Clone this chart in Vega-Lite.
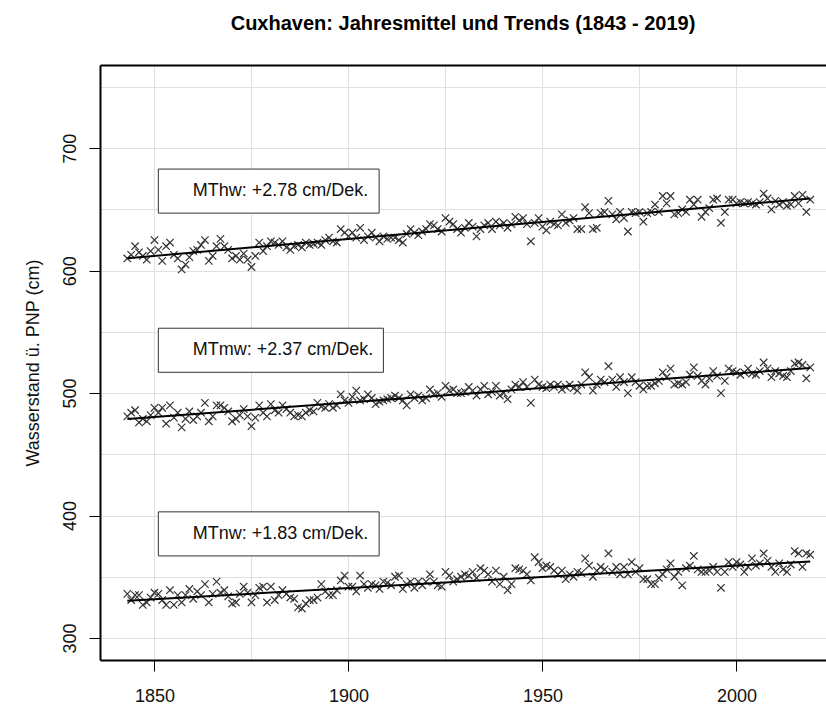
{
  "$schema": "https://vega.github.io/schema/vega-lite/v6.json",
  "width": 726,
  "height": 595,
  "autosize": {"type": "none"},
  "padding": {"left": 100, "top": 65, "right": 0, "bottom": 44},
  "background": "white",
  "title": {"text": "Cuxhaven: Jahresmittel und Trends (1843 - 2019)", "font": "Liberation Sans", "fontSize": 20, "fontWeight": "bold", "anchor": "middle", "frame": "group", "baseline": "alphabetic", "offset": 15, "color": "#000"},
  "config": {
    "view": {"stroke": null},
    "font": "Liberation Sans",
    "axis": {"labelFont": "Liberation Sans", "titleFont": "Liberation Sans", "labelColor": "#111", "titleColor": "#111", "tickColor": "#000", "domainColor": "#000", "gridColor": "#e0e0e0", "gridWidth": 1}
  },
  "datasets": {
    "obs": [
      {"year":1843,"hw":610,"mw":481,"nw":336},{"year":1844,"hw":613,"mw":484,"nw":331},{"year":1845,"hw":620,"mw":486,"nw":335},{"year":1846,"hw":615,"mw":476,"nw":335},{"year":1847,"hw":612,"mw":479,"nw":327},{"year":1848,"hw":609,"mw":477,"nw":329},{"year":1849,"hw":616,"mw":482,"nw":333},{"year":1850,"hw":625,"mw":488,"nw":337},{"year":1851,"hw":617,"mw":484,"nw":336},{"year":1852,"hw":608,"mw":488,"nw":331},
      {"year":1853,"hw":620,"mw":475,"nw":327},{"year":1854,"hw":623,"mw":490,"nw":339},{"year":1855,"hw":613,"mw":480,"nw":327},{"year":1856,"hw":610,"mw":484,"nw":335},{"year":1857,"hw":601,"mw":472,"nw":329},{"year":1858,"hw":605,"mw":479,"nw":335},{"year":1859,"hw":611,"mw":485,"nw":340},{"year":1860,"hw":616,"mw":478,"nw":332},{"year":1861,"hw":617,"mw":481,"nw":338},{"year":1862,"hw":621,"mw":484,"nw":335},
      {"year":1863,"hw":625,"mw":492,"nw":344},{"year":1864,"hw":608,"mw":477,"nw":329},{"year":1865,"hw":612,"mw":481,"nw":336},{"year":1866,"hw":620,"mw":490,"nw":346},{"year":1867,"hw":626,"mw":490,"nw":337},{"year":1868,"hw":620,"mw":488,"nw":339},{"year":1869,"hw":617,"mw":485,"nw":334},{"year":1870,"hw":610,"mw":477,"nw":328},{"year":1871,"hw":612,"mw":479,"nw":329},{"year":1872,"hw":609,"mw":482,"nw":336},
      {"year":1873,"hw":614,"mw":487,"nw":342},{"year":1874,"hw":609,"mw":481,"nw":337},{"year":1875,"hw":603,"mw":473,"nw":329},{"year":1876,"hw":612,"mw":480,"nw":335},{"year":1877,"hw":623,"mw":490,"nw":341},{"year":1878,"hw":616,"mw":484,"nw":342},{"year":1879,"hw":620,"mw":481,"nw":329},{"year":1880,"hw":624,"mw":491,"nw":342},{"year":1881,"hw":623,"mw":486,"nw":331},{"year":1882,"hw":621,"mw":484,"nw":335},
      {"year":1883,"hw":624,"mw":490,"nw":339},{"year":1884,"hw":619,"mw":487,"nw":336},{"year":1885,"hw":617,"mw":484,"nw":333},{"year":1886,"hw":620,"mw":481,"nw":332},{"year":1887,"hw":621,"mw":482,"nw":325},{"year":1888,"hw":619,"mw":481,"nw":324},{"year":1889,"hw":623,"mw":484,"nw":328},{"year":1890,"hw":621,"mw":486,"nw":331},{"year":1891,"hw":622,"mw":485,"nw":331},{"year":1892,"hw":623,"mw":492,"nw":333},
      {"year":1893,"hw":621,"mw":489,"nw":344},{"year":1894,"hw":625,"mw":488,"nw":338},{"year":1895,"hw":627,"mw":491,"nw":335},{"year":1896,"hw":624,"mw":488,"nw":335},{"year":1897,"hw":623,"mw":490,"nw":339},{"year":1898,"hw":634,"mw":499,"nw":347},{"year":1899,"hw":631,"mw":494,"nw":351},{"year":1900,"hw":628,"mw":492,"nw":342},{"year":1901,"hw":631,"mw":497,"nw":342},{"year":1902,"hw":627,"mw":502,"nw":338},
      {"year":1903,"hw":635,"mw":494,"nw":351},{"year":1904,"hw":625,"mw":495,"nw":344},{"year":1905,"hw":628,"mw":499,"nw":341},{"year":1906,"hw":631,"mw":496,"nw":344},{"year":1907,"hw":627,"mw":491,"nw":343},{"year":1908,"hw":624,"mw":493,"nw":340},{"year":1909,"hw":628,"mw":494,"nw":346},{"year":1910,"hw":626,"mw":495,"nw":345},{"year":1911,"hw":627,"mw":496,"nw":343},{"year":1912,"hw":627,"mw":498,"nw":350},
      {"year":1913,"hw":625,"mw":496,"nw":351},{"year":1914,"hw":623,"mw":494,"nw":340},{"year":1915,"hw":630,"mw":490,"nw":344},{"year":1916,"hw":634,"mw":499,"nw":346},{"year":1917,"hw":631,"mw":496,"nw":341},{"year":1918,"hw":629,"mw":498,"nw":346},{"year":1919,"hw":632,"mw":494,"nw":343},{"year":1920,"hw":634,"mw":496,"nw":346},{"year":1921,"hw":638,"mw":503,"nw":352},{"year":1922,"hw":637,"mw":499,"nw":346},
      {"year":1923,"hw":634,"mw":500,"nw":343},{"year":1924,"hw":632,"mw":497,"nw":342},{"year":1925,"hw":643,"mw":506,"nw":354},{"year":1926,"hw":640,"mw":502,"nw":351},{"year":1927,"hw":638,"mw":503,"nw":346},{"year":1928,"hw":634,"mw":500,"nw":348},{"year":1929,"hw":631,"mw":500,"nw":350},{"year":1930,"hw":635,"mw":501,"nw":352},{"year":1931,"hw":639,"mw":505,"nw":351},{"year":1932,"hw":636,"mw":502,"nw":354},
      {"year":1933,"hw":628,"mw":498,"nw":349},{"year":1934,"hw":634,"mw":503,"nw":357},{"year":1935,"hw":637,"mw":506,"nw":355},{"year":1936,"hw":639,"mw":499,"nw":352},{"year":1937,"hw":634,"mw":501,"nw":346},{"year":1938,"hw":640,"mw":506,"nw":355},{"year":1939,"hw":637,"mw":498,"nw":344},{"year":1940,"hw":639,"mw":500,"nw":350},{"year":1941,"hw":635,"mw":495,"nw":339},{"year":1942,"hw":638,"mw":503,"nw":344},
      {"year":1943,"hw":644,"mw":507,"nw":357},{"year":1944,"hw":641,"mw":505,"nw":356},{"year":1945,"hw":643,"mw":509,"nw":355},{"year":1946,"hw":638,"mw":505,"nw":352},{"year":1947,"hw":624,"mw":492,"nw":347},{"year":1948,"hw":639,"mw":511,"nw":366},{"year":1949,"hw":643,"mw":507,"nw":362},{"year":1950,"hw":636,"mw":505,"nw":357},{"year":1951,"hw":633,"mw":504,"nw":359},{"year":1952,"hw":640,"mw":507,"nw":358},
      {"year":1953,"hw":638,"mw":505,"nw":355},{"year":1954,"hw":637,"mw":507,"nw":352},{"year":1955,"hw":646,"mw":503,"nw":355},{"year":1956,"hw":639,"mw":505,"nw":348},{"year":1957,"hw":641,"mw":507,"nw":352},{"year":1958,"hw":643,"mw":504,"nw":350},{"year":1959,"hw":634,"mw":502,"nw":354},{"year":1960,"hw":634,"mw":507,"nw":353},{"year":1961,"hw":652,"mw":517,"nw":365},{"year":1962,"hw":647,"mw":513,"nw":359},
      {"year":1963,"hw":634,"mw":502,"nw":350},{"year":1964,"hw":635,"mw":507,"nw":355},{"year":1965,"hw":647,"mw":511,"nw":358},{"year":1966,"hw":648,"mw":509,"nw":356},{"year":1967,"hw":657,"mw":522,"nw":369},{"year":1968,"hw":646,"mw":511,"nw":354},{"year":1969,"hw":642,"mw":505,"nw":358},{"year":1970,"hw":648,"mw":513,"nw":352},{"year":1971,"hw":643,"mw":509,"nw":358},{"year":1972,"hw":632,"mw":500,"nw":352},
      {"year":1973,"hw":648,"mw":513,"nw":362},{"year":1974,"hw":647,"mw":509,"nw":354},{"year":1975,"hw":648,"mw":506,"nw":357},{"year":1976,"hw":640,"mw":503,"nw":348},{"year":1977,"hw":647,"mw":506,"nw":348},{"year":1978,"hw":648,"mw":506,"nw":344},{"year":1979,"hw":654,"mw":508,"nw":344},{"year":1980,"hw":648,"mw":510,"nw":349},{"year":1981,"hw":661,"mw":517,"nw":352},{"year":1982,"hw":655,"mw":513,"nw":356},
      {"year":1983,"hw":661,"mw":520,"nw":361},{"year":1984,"hw":646,"mw":507,"nw":350},{"year":1985,"hw":647,"mw":508,"nw":354},{"year":1986,"hw":650,"mw":507,"nw":343},{"year":1987,"hw":648,"mw":509,"nw":357},{"year":1988,"hw":658,"mw":515,"nw":359},{"year":1989,"hw":654,"mw":521,"nw":367},{"year":1990,"hw":658,"mw":514,"nw":356},{"year":1991,"hw":644,"mw":510,"nw":354},{"year":1992,"hw":648,"mw":507,"nw":354},
      {"year":1993,"hw":651,"mw":512,"nw":355},{"year":1994,"hw":658,"mw":518,"nw":358},{"year":1995,"hw":659,"mw":514,"nw":354},{"year":1996,"hw":639,"mw":500,"nw":341},{"year":1997,"hw":648,"mw":510,"nw":354},{"year":1998,"hw":658,"mw":520,"nw":362},{"year":1999,"hw":658,"mw":518,"nw":358},{"year":2000,"hw":655,"mw":517,"nw":362},{"year":2001,"hw":656,"mw":515,"nw":360},{"year":2002,"hw":655,"mw":517,"nw":354},
      {"year":2003,"hw":656,"mw":520,"nw":358},{"year":2004,"hw":655,"mw":516,"nw":365},{"year":2005,"hw":654,"mw":515,"nw":359},{"year":2006,"hw":656,"mw":518,"nw":361},{"year":2007,"hw":663,"mw":525,"nw":369},{"year":2008,"hw":659,"mw":520,"nw":363},{"year":2009,"hw":650,"mw":513,"nw":358},{"year":2010,"hw":657,"mw":518,"nw":354},{"year":2011,"hw":654,"mw":516,"nw":361},{"year":2012,"hw":656,"mw":514,"nw":356},
      {"year":2013,"hw":653,"mw":513,"nw":354},{"year":2014,"hw":654,"mw":518,"nw":360},{"year":2015,"hw":661,"mw":524,"nw":371},{"year":2016,"hw":655,"mw":525,"nw":369},{"year":2017,"hw":662,"mw":523,"nw":358},{"year":2018,"hw":648,"mw":512,"nw":369},{"year":2019,"hw":658,"mw":521,"nw":368}
    ],
    "trend": [
      {"s":"hw","year":1843,"v":610.1},{"s":"hw","year":2019,"v":659.0},
      {"s":"mw","year":1843,"v":478.8},{"s":"mw","year":2019,"v":520.5},
      {"s":"nw","year":1843,"v":330.3},{"s":"nw","year":2019,"v":362.5}
    ],
    "notes": [
      {"label":"MThw: +2.78 cm/Dek.","x1":1851.0,"x2":1907.9,"y1":647.0,"y2":683.0,"tx":1905.1,"ty":665.0},
      {"label":"MTmw: +2.37 cm/Dek.","x1":1851.0,"x2":1909.0,"y1":517.0,"y2":553.0,"tx":1906.4,"ty":535.0},
      {"label":"MTnw: +1.83 cm/Dek.","x1":1851.0,"x2":1907.9,"y1":367.0,"y2":403.0,"tx":1905.1,"ty":385.0}
    ]
  },
  "resolve": {"axis": {"x": "independent", "y": "independent"}},
  "layer": [
    {
      "data": {"name": "obs"},
      "transform": [{"fold": ["hw", "mw", "nw"], "as": ["s", "v"]}],
      "mark": {"type": "point", "shape": "M-1,-1L1,1M-1,1L1,-1", "size": 55, "filled": false, "stroke": "#333", "strokeWidth": 1.2, "opacity": 1},
      "encoding": {
        "x": {"field": "year", "type": "quantitative", "scale": {"domain": [1835.96, 2023.07], "nice": false, "zero": false},
          "axis": {"orient": "bottom", "title": null, "values": [1850, 1875, 1900, 1925, 1950, 1975, 2000], "labelExpr": "datum.value % 50 === 0 ? datum.label : ''", "format": "d", "labelFontSize": 18, "labelBaseline": "alphabetic", "labelPadding": 30, "tickSize": 11, "tickWidth": 1, "tickOpacity": {"condition": {"test": "datum.value % 50 === 0", "value": 1}, "value": 0}, "domain": true, "domainWidth": 2, "grid": true}},
        "y": {"field": "v", "type": "quantitative", "scale": {"domain": [282, 768], "nice": false, "zero": false},
          "axis": {"orient": "left", "title": "Wasserstand ü. PNP (cm)", "titleFontSize": 18, "titleFontWeight": "normal", "titleAngle": 270, "titleAlign": "center", "titleBaseline": "alphabetic", "titleX": -62, "titleY": 297.5, "values": [300, 350, 400, 450, 500, 550, 600, 650, 700, 750], "labelExpr": "datum.value % 100 === 0 ? datum.label : ''", "labelFontSize": 18, "labelAngle": 270, "labelAlign": "center", "labelBaseline": "alphabetic", "labelPadding": 14, "tickSize": 11, "tickWidth": 1, "tickOpacity": {"condition": {"test": "datum.value % 100 === 0", "value": 1}, "value": 0}, "domain": true, "domainWidth": 2, "grid": true}},
        "detail": {"field": "s"}
      }
    },
    {
      "data": {"name": "trend"},
      "mark": {"type": "line", "color": "#000", "strokeWidth": 2},
      "encoding": {
        "x": {"field": "year", "type": "quantitative", "axis": {"orient": "top", "title": null, "labels": false, "ticks": false, "grid": false, "domain": true, "domainWidth": 2}},
        "y": {"field": "v", "type": "quantitative", "axis": null},
        "detail": {"field": "s"}
      }
    },
    {
      "data": {"name": "notes"},
      "mark": {"type": "rect", "fill": "white", "stroke": "#333", "strokeWidth": 1},
      "encoding": {
        "x": {"field": "x1", "type": "quantitative", "axis": null},
        "x2": {"field": "x2"},
        "y": {"field": "y1", "type": "quantitative", "axis": null},
        "y2": {"field": "y2"}
      }
    },
    {
      "data": {"name": "notes"},
      "mark": {"type": "text", "align": "right", "baseline": "middle", "font": "Liberation Sans", "fontSize": 18, "color": "#111"},
      "encoding": {
        "x": {"field": "tx", "type": "quantitative", "axis": null},
        "y": {"field": "ty", "type": "quantitative", "axis": null},
        "text": {"field": "label"}
      }
    }
  ]
}
